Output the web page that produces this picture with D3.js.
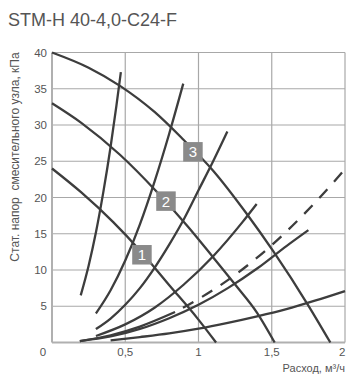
<!DOCTYPE html>
<html><head><meta charset="utf-8">
<script src="https://cdn.jsdelivr.net/npm/d3@7/dist/d3.min.js"></script>
<style>
html,body{margin:0;padding:0;background:#fff;}
svg{display:block;font-family:"Liberation Sans",Arial,sans-serif;}
</style></head>
<body>
<svg id="c" width="346" height="376"></svg>
<script>
const title = "STM-H 40-4,0-C24-F";
const yTitle = "Стат. напор  смесительного узла, кПа";
const xTitle = "Расход, м³/ч";
const xTicks = [0, 0.5, 1, 1.5, 2];
const xTickLabels = ["0", "0,5", "1", "1,5", "2"];
const yTicks = [5, 10, 15, 20, 25, 30, 35, 40];
const yTickLabels = ["5", "10", "15", "20", "25", "30", "35", "40"];

// pump curves (descending)
const pump1 = [[0,24],[0.2,20.7],[0.418,16.6],[0.6,12.7],[0.805,7.8],[0.99,3.4],[1.12,0]];
const pump2 = [[0,33],[0.2,30.3],[0.464,25.9],[0.715,20.8],[0.927,16.0],[1.09,12.0],[1.25,8.0],[1.4,4.1],[1.52,0]];
const pump3 = [[0,40],[0.25,37.9],[0.464,35.4],[0.7,31.8],[0.896,28.0],[1.1,23.7],[1.324,17.9],[1.51,12.6],[1.75,5.1],[1.9,0]];
const pumpLabels = ["1", "2", "3"];
const labelPos = [[0.614,12.1],[0.778,19.5],[0.962,26.3]];

// system curves (rising)
const sysA = [[0.196,6.5],[0.25,10.6],[0.3,15.2],[0.35,20.7],[0.4,27],[0.44,32.7],[0.47,37.3]];
const sysB = [[0.3,4.0],[0.4,7.2],[0.5,11.3],[0.6,16.3],[0.7,22.2],[0.8,28.8],[0.896,35.7]];
const sysC = [[0.3,1.85],[0.4,3.3],[0.5,5.2],[0.6,7.5],[0.7,10.3],[0.8,13.5],[0.9,17],[1.0,21],[1.1,25],[1.197,29.1]];
const sysD = [[0.3,0.9],[0.5,2.5],[0.7,4.8],[0.9,8],[1.1,11.9],[1.3,16.6],[1.397,19.1]];
const sysDashSolid = [[0.19,0.2],[0.4,1.0],[0.6,2.2],[0.84,4.2]];
const sysDash = [[0.84,4.2],[1.0,6.0],[1.2,8.6],[1.4,11.7],[1.6,15.3],[1.8,19.4],[2.0,23.9]];
const sysE = [[0.19,0.2],[0.4,0.83],[0.6,1.87],[0.8,3.35],[1.0,5.2],[1.2,7.5],[1.4,10.2],[1.6,13.3],[1.75,15.5]];
const sysF = [[0.4,0.3],[0.6,0.75],[0.8,1.25],[1.0,1.9],[1.2,2.7],[1.4,3.6],[1.6,4.6],[1.8,5.8],[2.0,7.1]];

const svg = d3.select("#c");
const x = d3.scaleLinear().domain([0,2]).range([52,345]);
const y = d3.scaleLinear().domain([0,40]).range([342.5,52.5]);

svg.append("text").attr("x",8).attr("y",26).attr("font-size",18).attr("fill","#555").text(title);

const grid = svg.append("g");
yTicks.forEach(t=>{
  grid.append("line").attr("x1",x(0)).attr("x2",x(2)).attr("y1",y(t)).attr("y2",y(t))
    .attr("stroke","#a8a8a8").attr("stroke-width",1.2);
});
xTicks.slice(1).forEach(t=>{
  grid.append("line").attr("x1",x(t)).attr("x2",x(t)).attr("y1",y(0)).attr("y2",y(40))
    .attr("stroke","#a8a8a8").attr("stroke-width",1.2);
});
grid.append("line").attr("x1",x(0)).attr("x2",x(0)).attr("y1",y(0)).attr("y2",y(40)).attr("stroke","#b0b0b0").attr("stroke-width",2);
grid.append("line").attr("x1",x(0)).attr("x2",x(2)).attr("y1",y(0)).attr("y2",y(0)).attr("stroke","#b0b0b0").attr("stroke-width",2);

// tick labels
yTicks.forEach((t,i)=>{
  svg.append("text").attr("x",47).attr("y",y(t)).attr("dy","0.36em").attr("text-anchor","end")
    .attr("font-size",11.5).attr("fill","#555").text(yTickLabels[i]);
});
xTicks.forEach((t,i)=>{
  const last = i === xTicks.length - 1;
  svg.append("text").attr("x", t===0 ? x(t)-9 : (last ? 345.5 : x(t))).attr("y",356)
    .attr("text-anchor", last ? "end" : "middle")
    .attr("font-size",11.5).attr("fill","#555").text(xTickLabels[i]);
});
svg.append("text").attr("x",345).attr("y",372).attr("text-anchor","end").attr("font-size",11).attr("fill","#555").text(xTitle);
svg.append("text").attr("transform","translate(19,157) rotate(-90)").attr("text-anchor","middle")
  .attr("font-size",12).attr("fill","#555").attr("xml:space","preserve").style("white-space","pre").text(yTitle);

const line = d3.line().x(d=>x(d[0])).y(d=>y(d[1])).curve(d3.curveMonotoneX);
const stroke = "#3d3d3d";
[sysA, sysB, sysC, sysD, sysDashSolid, sysE, sysF, pump1, pump2, pump3].forEach(s=>{
  svg.append("path").attr("d",line(s)).attr("fill","none").attr("stroke",stroke).attr("stroke-width",2.3);
});
svg.append("path").attr("d",line(sysDash)).attr("fill","none").attr("stroke",stroke).attr("stroke-width",2.3)
  .attr("stroke-dasharray","0,9,12,10,12,10,12,10,12,10,12,10,12,10,12,10,12,10,12,10,12,10,12,10,12,10");

labelPos.forEach((p,i)=>{
  const cx = x(p[0]), cy = y(p[1]);
  svg.append("rect").attr("x",cx-9.75).attr("y",cy-9.75).attr("width",19.5).attr("height",19.5).attr("fill","#8a8a8a");
  svg.append("text").attr("x",cx).attr("y",cy).attr("dy","0.36em").attr("text-anchor","middle")
    .attr("font-size",15).attr("fill","#fff").text(pumpLabels[i]);
});
</script>
</body></html>
